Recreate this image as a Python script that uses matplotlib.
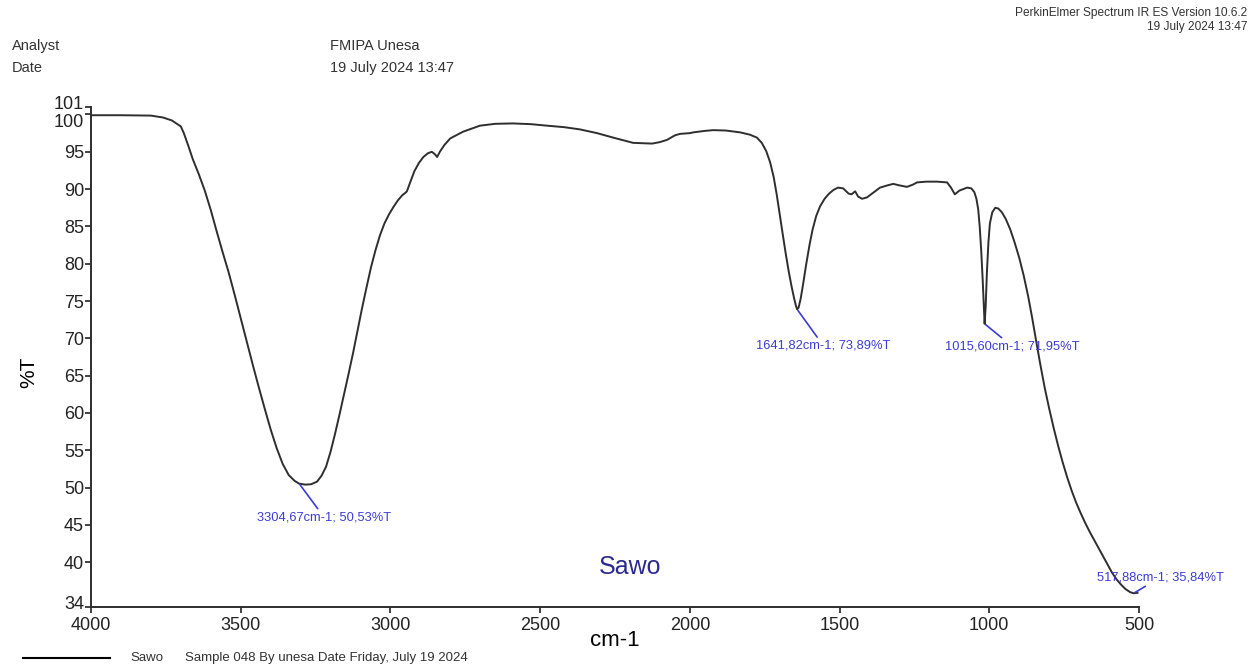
"""FTIR spectrum of the Sawo sample, redrawn after the PerkinElmer printout."""

import matplotlib

matplotlib.use("Agg")
import matplotlib.pyplot as plt
from matplotlib.transforms import ScaledTranslation

plt.rcParams.update({
    "font.family": ["Liberation Sans", "DejaVu Sans"],
    "axes.spines.top": False,
    "axes.spines.right": False,
})

INK, BLUE, NAVY = "#2e2e2e", "#3b3bd6", "#2a2a90"

# wavenumber (cm-1) and transmittance (%T)
wavenumber = [
    4000, 3900, 3800, 3760, 3730, 3700, 3690, 3675, 3660, 3640, 3620, 3600,
    3580, 3560, 3540, 3520, 3500, 3480, 3460, 3440, 3420, 3400, 3380, 3360,
    3340, 3320, 3304.67, 3285, 3265, 3245, 3230, 3215, 3200, 3185, 3170, 3155,
    3140, 3125, 3110, 3095, 3080, 3065, 3050, 3035, 3020, 3005, 2990, 2975,
    2960, 2950, 2945, 2935, 2920, 2905, 2890, 2875, 2862, 2852, 2844, 2835,
    2820, 2800, 2757, 2701, 2650, 2590, 2530, 2477, 2420, 2367, 2310, 2256,
    2190, 2126, 2100, 2076, 2050, 2033, 2000, 1989, 1950, 1922, 1880, 1832,
    1800, 1776, 1760, 1745, 1732, 1720, 1710, 1700, 1690, 1680, 1670, 1660,
    1652, 1646, 1641.82, 1637, 1630, 1622, 1612, 1600, 1590, 1578, 1565, 1550,
    1535, 1520, 1505, 1488, 1470, 1460, 1448, 1438, 1425, 1408, 1385, 1365,
    1340, 1321, 1300, 1275, 1255, 1241, 1210, 1175, 1141, 1128, 1115, 1100,
    1074, 1060, 1050, 1043, 1037, 1032, 1027, 1022, 1018, 1015.6, 1012, 1008,
    1003, 998, 990, 980, 970, 958, 945, 930, 915, 900, 885, 870,
    857, 845, 830, 815, 800, 785, 770, 755, 740, 725, 710, 695,
    680, 665, 650, 635, 620, 605, 590, 575, 560, 545, 530, 517.88,
    505,
]
transmittance = [
    99.9, 99.9, 99.85, 99.6, 99.2, 98.4, 97.5, 95.8, 94.0, 92.0, 89.8, 87.2,
    84.3, 81.5, 78.8, 75.8, 72.7, 69.6, 66.5, 63.5, 60.6, 57.8, 55.3, 53.2,
    51.7, 50.9, 50.53, 50.4, 50.45, 50.8, 51.6, 52.8, 54.8, 57.2, 59.8, 62.5,
    65.2, 68.0, 71.0, 74.0, 76.8, 79.5, 81.8, 83.8, 85.4, 86.6, 87.6, 88.5,
    89.2, 89.5, 89.7, 90.8, 92.4, 93.5, 94.3, 94.8, 95.0, 94.7, 94.3, 95.0,
    95.9, 96.8, 97.7, 98.5, 98.75, 98.8, 98.7, 98.5, 98.3, 98.0, 97.5, 96.9,
    96.2, 96.1, 96.3, 96.6, 97.2, 97.4, 97.5, 97.6, 97.8, 97.9, 97.85, 97.6,
    97.3, 96.9, 96.2, 95.1, 93.6, 91.6, 89.3, 86.6, 84.0, 81.4, 79.0, 76.9,
    75.4, 74.4, 73.89, 74.1, 75.3, 77.2, 79.8, 82.6, 84.6, 86.4, 87.7, 88.7,
    89.4, 89.9, 90.2, 90.1, 89.4, 89.3, 89.7, 89.0, 88.7, 88.9, 89.6, 90.2,
    90.5, 90.7, 90.5, 90.3, 90.6, 90.9, 91.0, 91.0, 90.9, 90.2, 89.3, 89.8,
    90.2, 90.1, 89.6, 88.7, 87.3, 85.0, 81.8, 77.8, 74.2, 71.95, 74.3, 78.8,
    82.8, 85.4, 86.9, 87.5, 87.4, 86.9, 86.0, 84.6, 82.8, 80.8, 78.4, 75.6,
    72.8, 70.0, 66.6, 63.4, 60.6, 58.0, 55.6, 53.4, 51.4, 49.6, 48.0, 46.6,
    45.3, 44.1, 43.0, 41.9, 40.8, 39.7, 38.6, 37.7, 37.0, 36.4, 36.0, 35.84,
    35.9,
]

# labelled peaks
peak_wn = [3304.67, 1641.82, 1015.60, 517.88]
peak_t = [50.53, 73.89, 71.95, 35.84]
peak_labels = ["3304,67cm-1; 50,53%T", "1641,82cm-1; 73,89%T",
               "1015,60cm-1; 71,95%T", "517,88cm-1; 35,84%T"]
label_offsets = [(18, -20), (19, -22), (20, -12), (19, 7)]

y_ticks = [34, 40, 45, 50, 55, 60, 65, 70, 75, 80, 85, 90, 95, 100, 101]
x_ticks = [4000, 3500, 3000, 2500, 2000, 1500, 1000, 500]

fig = plt.figure(figsize=(12.5, 6.68), dpi=100)
ax = fig.add_axes((0.0728, 0.0913, 0.8384, 0.7485))

ax.plot(wavenumber, transmittance, color=INK, lw=1.4)

for wn, t, lab, off in zip(peak_wn, peak_t, peak_labels, label_offsets):
    ax.annotate(lab, xy=(wn, t), xytext=off, textcoords="offset points",
                ha="center", va="top" if off[1] < 0 else "bottom",
                fontsize=9.3, color=BLUE,
                arrowprops=dict(arrowstyle="-", color=BLUE, lw=1.2,
                                shrinkA=0, shrinkB=1))

ax.text(2200, 39.4, "Sawo", fontsize=18, color=NAVY, ha="center", va="center")

ax.set_xlim(4000, 500)
ax.set_ylim(34, 101)
ax.set_xticks(x_ticks)
ax.set_yticks(y_ticks)
ax.tick_params(labelsize=13, colors="#222", length=4, width=1.2)
ax.tick_params(axis="y", pad=1)
for s in ("left", "bottom"):
    ax.spines[s].set_linewidth(1.4)
    ax.spines[s].set_color(INK)
ax.set_xlabel("cm-1", fontsize=16, labelpad=-3)
ax.set_ylabel("%T", fontsize=15)
ax.yaxis.set_label_coords(-0.05, 0.47)

# 100 and 101 sit on top of each other; nudge them apart as the printout does
labels = ax.get_yticklabels()
labels[-1].set_transform(labels[-1].get_transform()
                         + ScaledTranslation(0, 3 / 72, fig.dpi_scale_trans))
labels[-2].set_transform(labels[-2].get_transform()
                         + ScaledTranslation(0, -4.5 / 72, fig.dpi_scale_trans))
labels[0].set_transform(labels[0].get_transform()
                        + ScaledTranslation(0, 3 / 72, fig.dpi_scale_trans))

# printout header
fig.text(0.0096, 0.931, "Analyst", fontsize=10.5, color="#333", va="center")
fig.text(0.0096, 0.898, "Date", fontsize=10.5, color="#333", va="center")
fig.text(0.264, 0.931, "FMIPA Unesa", fontsize=10.5, color="#333", va="center")
fig.text(0.264, 0.898, "19 July 2024 13:47", fontsize=10.5, color="#333", va="center")
fig.text(0.998, 0.980, "PerkinElmer Spectrum IR ES Version 10.6.2", fontsize=8.6,
         color="#333", ha="right", va="center")
fig.text(0.998, 0.959, "19 July 2024 13:47", fontsize=8.6, color="#333",
         ha="right", va="center")

# footer legend
fig.add_artist(plt.Line2D([0.018, 0.088], [0.015, 0.015], color="black", lw=1.5))
fig.text(0.104, 0.015, "Sawo", fontsize=9.5, color="#333", va="center")
fig.text(0.148, 0.015, "Sample 048 By unesa Date Friday, July 19 2024",
         fontsize=9.5, color="#333", va="center")

fig.savefig("out.png", dpi=100)
